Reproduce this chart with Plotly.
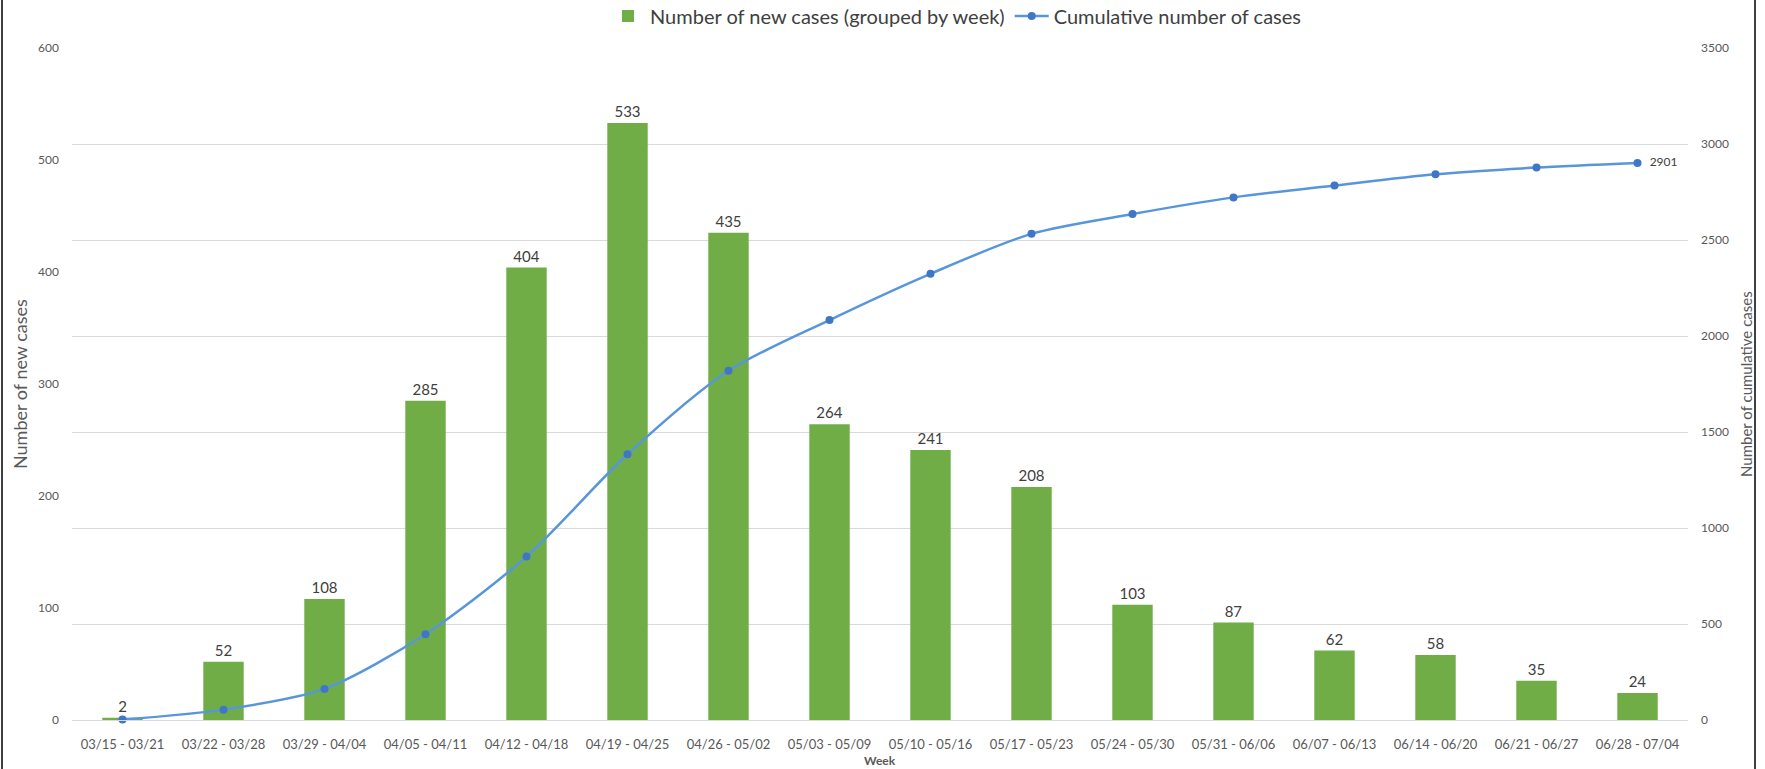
import plotly.graph_objects as go

weeks = ["03/15 - 03/21", "03/22 - 03/28", "03/29 - 04/04", "04/05 - 04/11", "04/12 - 04/18",
         "04/19 - 04/25", "04/26 - 05/02", "05/03 - 05/09", "05/10 - 05/16", "05/17 - 05/23",
         "05/24 - 05/30", "05/31 - 06/06", "06/07 - 06/13", "06/14 - 06/20", "06/21 - 06/27",
         "06/28 - 07/04"]
new_cases = [2, 52, 108, 285, 404, 533, 435, 264, 241, 208, 103, 87, 62, 58, 35, 24]
cumulative = [2, 54, 162, 447, 851, 1384, 1819, 2083, 2324, 2532, 2635, 2722, 2784, 2842, 2877, 2901]

FONT = "Lato"
W, H = 1765, 769
ML, MR, MT, MB = 72, 77, 48, 49
pw = W - ML - MR
ph = H - MT - MB

def px(x):
    return (x - ML) / pw

def py(y):
    return (H - MB - y) / ph

cum_text = [""] * (len(cumulative) - 1) + ["  " + str(cumulative[-1])]

fig = go.Figure()
fig.add_trace(go.Bar(
    x=weeks, y=new_cases, name="Number of new cases (grouped by week)",
    marker=dict(color="#70ad47", line=dict(width=0)),
    text=[str(v) for v in new_cases], textposition="outside",
    textfont=dict(family=FONT, size=15, color="#404040"),
    cliponaxis=False, yaxis="y",
))
fig.add_trace(go.Scatter(
    x=weeks, y=cumulative, name="Cumulative number of cases",
    mode="lines+markers+text", line=dict(color="#5896dc", width=2.5, shape="spline", smoothing=0.8),
    marker=dict(color="#3f77c6", size=8),
    text=cum_text, textposition="middle right",
    textfont=dict(family=FONT, size=12, color="#404040"),
    cliponaxis=False, yaxis="y2",
))

fig.update_layout(
    width=W, height=H,
    margin=dict(l=ML, r=MR, t=MT, b=MB, autoexpand=False),
    paper_bgcolor="white", plot_bgcolor="white",
    font=dict(family=FONT, color="#595959"),
    bargap=0.6,
    showlegend=True,
    legend=dict(orientation="h", x=px(606), xanchor="left", y=py(16),
                yanchor="middle", font=dict(family=FONT, size=20, color="#404040"),
                itemwidth=34, tracegroupgap=0, bgcolor="rgba(0,0,0,0)"),
    xaxis=dict(range=[-0.5, len(weeks) - 0.5], autorange=False,
               showgrid=False, showline=True, linecolor="#d9d9d9", linewidth=1,
               ticks="", tickfont=dict(family=FONT, size=13, color="#595959"),
               tickangle=0, ticklabelstandoff=12),
    yaxis=dict(range=[0, 600], dtick=100, showgrid=False, zeroline=False, showline=False,
               tickfont=dict(family=FONT, size=12, color="#595959"), ticks="",
               ticklabelstandoff=12),
    yaxis2=dict(range=[0, 3500], dtick=500, overlaying="y", side="right",
                showgrid=True, gridcolor="#d9d9d9", gridwidth=1, zeroline=False,
                tickfont=dict(family=FONT, size=12, color="#595959"), ticks="",
                ticklabelstandoff=12),
    annotations=[
        dict(text="Number of new cases", xref="paper", yref="paper", x=px(20), y=0.5,
             textangle=-90, showarrow=False, font=dict(family=FONT, size=18, color="#595959"),
             xanchor="center", yanchor="middle"),
        dict(text="Number of cumulative cases", xref="paper", yref="paper", x=px(1746), y=0.5,
             textangle=-90, showarrow=False, font=dict(family=FONT, size=15, color="#595959"),
             xanchor="center", yanchor="middle"),
        dict(text="<b>Week</b>", xref="paper", yref="paper", x=0.5, y=py(761),
             showarrow=False, font=dict(family=FONT, size=12, color="#595959"),
             xanchor="center", yanchor="middle"),
    ],
    shapes=[
        dict(type="line", xref="paper", yref="paper", x0=px(2), x1=px(2), y0=py(H + 5), y1=py(-5),
             line=dict(color="#404040", width=2)),
        dict(type="line", xref="paper", yref="paper", x0=px(1755), x1=px(1755), y0=py(H + 5), y1=py(-5),
             line=dict(color="#404040", width=2)),
    ],
)

fig.write_html("out.html", config={"displayModeBar": False},
               post_script="document.body.style.margin='0';document.body.style.overflow='hidden';")
